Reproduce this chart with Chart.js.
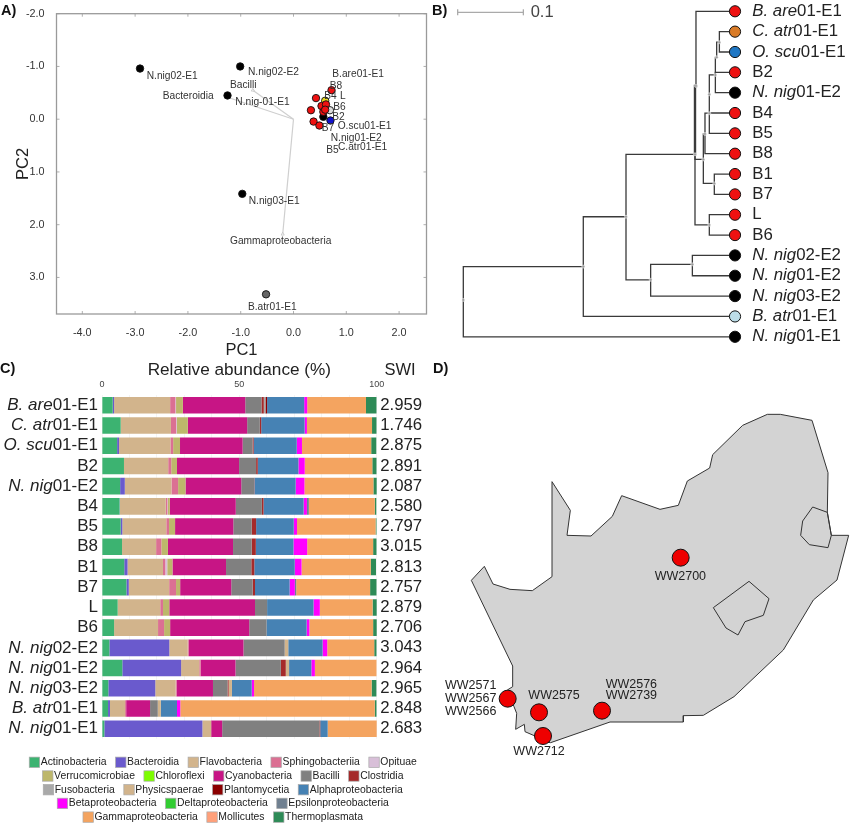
<!DOCTYPE html>
<html><head><meta charset="utf-8">
<script src="https://cdn.jsdelivr.net/npm/chart.js@4/dist/chart.umd.js"></script>
<style>
html,body{margin:0;padding:0;background:#fff;width:850px;height:824px;overflow:hidden}
canvas{position:absolute;display:block}
.tag{position:absolute;font:bold 14.5px "Liberation Sans";color:#111;line-height:16px}
</style></head><body>
<canvas id="a" width="430" height="360" style="left:0;top:0"></canvas>
<canvas id="b" width="420" height="350" style="left:430px;top:0"></canvas>
<canvas id="c" width="430" height="469" style="left:0;top:355px"></canvas>
<canvas id="d" width="420" height="400" style="left:430px;top:380px"></canvas>
<div class="tag" style="left:1px;top:2px">A)</div>
<div class="tag" style="left:432px;top:2px">B)</div>
<div class="tag" style="left:0;top:360px">C)</div>
<div class="tag" style="left:433px;top:360px">D)</div>
<script>
// ---------- Panel A: PCA ----------
const pcNames=['B.atr','Nnig03','Nnig02a','Nnig02b','Nnig01','yellow','pale','black','red1','red2','red3','red4','red5','red6','red7','red8','red9','blue'];
const pc1=[-0.52,-0.97,-2.907,-1.01,-1.25,0.60,0.69,0.565,0.72,0.426,0.33,0.53,0.615,0.565,0.38,0.49,0.60,0.70];
const pc2=[3.32,1.415,-0.96,-1.0,-0.45,-0.35,-0.17,-0.045,-0.55,-0.40,-0.17,-0.25,-0.28,-0.14,0.045,0.12,-0.18,0.025];
const pcColors=['#666666','#000','#000','#000','#000','#e8d820','#dddddd','#000','#ee1111','#ee1111','#ee1111','#ee1111','#ee1111','#ee1111','#ee1111','#ee1111','#ee1111','#1111cc'];
const arrowNames=['Bacilli','Bacteroidia','Gammaproteobacteria'];
const arrowPc1=[-0.77,-1.265,-0.205];
const arrowPc2=[-0.55,-0.42,2.18];
const pcLabelText=['N.nig02-E1','N.nig02-E2','Bacilli','Bacteroidia','N.nig-01-E1','B.are01-E1','B8','B4','L','B6','B2','O.scu01-E1','B7','N.nig01-E2','B5','C.atr01-E1','N.nig03-E1','Gammaproteobacteria','B.atr01-E1'];
const pcLabelX=[-2.78,-0.862,-1.203,-2.477,-1.102,0.735,0.686,0.583,0.881,0.754,0.735,0.837,0.534,0.705,0.621,0.843,-0.848,-1.203,-0.862];
const pcLabelY=[-0.81,-0.884,-0.644,-0.436,-0.316,-0.852,-0.631,-0.43,-0.436,-0.233,-0.044,0.138,0.165,0.36,0.587,0.536,1.559,2.311,3.566];
const pcTicksX=[-4,-3,-2,-1,0,1,2];
const pcTicksY=[-2,-1,0,1,2,3];

// ---------- Panel B: tree ----------
const nodeNames=['root','A','C','D','E','F','H','I','J','K','M','N','Q','S','T','U'];
const nodeDist=[0,.1826,.2476,.3526,.2851,.3486,.3541,.3744,.3653,.3678,.3820,.3744,.3744,.3836,.3856,.3897];
const nodeRow=[14.19,12.55,10.1,7.03,13.2,12.44,3.67,10.5,7.28,6.03,8.46,5.01,4.08,3.13,2.26,1.52];
const nodeParent=[null,'root','A','C','C','E','D','D','D','J','J','K','N','Q','S','T'];
const tipNames=['B. are01-E1','C. atr01-E1','O. scu01-E1','B2','N. nig01-E2','B4','B5','B8','B1','B7','L','B6','N. nig02-E2','N. nig01-E2','N. nig03-E2','B. atr01-E1','N. nig01-E1'];
const tipParent=['H','U','U','S','S','N','N','K','M','M','I','I','F','F','E','A','root'];
const tipDist=.4135;
const tipColors=['#ee1111','#d97b27','#1f77c4','#ee1111','#000','#ee1111','#ee1111','#ee1111','#ee1111','#ee1111','#ee1111','#ee1111','#000','#000','#000','#bcdde8','#000'];

// ---------- Panel C: stacked bars ----------
const sampleNames=['B. are01-E1','C. atr01-E1','O. scu01-E1','B2','N. nig01-E2','B4','B5','B8','B1','B7','L','B6','N. nig02-E2','N. nig01-E2','N. nig03-E2','B. atr01-E1','N. nig01-E1'];
const swi=['2.959','1.746','2.875','2.891','2.087','2.580','2.797','3.015','2.813','2.757','2.879','2.706','3.043','2.964','2.965','2.848','2.683'];
const actinobacteria=[3.9,6.8,5.5,8,6.6,6.4,6.8,7.3,8.1,8.9,5.7,4.4,2.7,7.4,2.3,2.2,.85];
const bacteroidia=[.5,0,.7,0,1.7,.1,.6,0,1.2,.85,0,0,21.8,21.4,17.1,.7,35.7];
const flavobacteria=[20.4,18.3,18.7,16.1,17,16.7,16,12.4,12.9,14.7,15.5,16,6.7,6.6,7.4,5.5,3.2];
const sphingobacteriia=[1.9,1.9,1,1.1,2.4,.6,1,1.9,.85,2.5,1,2.2,.4,.5,.4,.4,0];
const opituae=[.25,.25,0,0,0,.2,0,0,.7,0,0,0,0,0,0,0,0];
const verrucomicrobiae=[2.5,4,2.5,2.1,2.7,.7,2.2,2.4,1.9,1.5,2.3,2.2,0,0,0,0,0];
const chloroflexi=[0,0,0,0,0,0,0,0,0,0,0,0,0,0,0,0,0];
const cyanobacteria=[22.7,21.6,22.8,22.6,20.3,24,21.2,23.7,19.5,18.6,31.2,28.8,19.9,12.7,13.2,8.7,4];
const bacilli=[5.9,4.6,3.6,6.2,4.7,9.5,6.7,6.8,9.2,7.8,4.4,6.3,15,16.5,5.3,2.8,35.4];
const clostridia=[.85,.5,.4,.6,.1,.6,1.6,1.5,1.1,.85,0,0,0,1.8,.4,0,.3];
const fusobacteria=[.6,0,0,0,0,0,0,0,0,0,0,0,0,0,0,0,0];
const physicspaerae=[0,0,0,0,0,0,0,0,0,0,0,0,1.3,1.2,1.2,1.1,0];
const plantomycetia=[.6,0,0,0,0,0,0,0,0,0,0,0,0,0,0,0,0];
const alphaproteobacteria=[13.5,15.8,15.7,14.8,15,14.6,13.7,13.7,14.7,12.6,16.9,14.6,12.5,8.1,7.2,5.9,2.7];
const betaproteobacteria=[1.1,.85,1.9,2.3,3.2,1.2,1.2,5,2.5,1.9,2.3,1,1.7,1.3,.85,1.2,0];
const deltaproteobacteria=[0,0,0,0,0,0,0,0,0,0,0,0,0,0,0,0,0];
const epsilonproteobacteria=[0,0,0,0,0,.7,0,0,0,.5,0,0,0,0,0,0,0];
const gammaproteobacteria=[21.4,23.7,25.2,24.6,25.1,24,28.6,24,25.2,26.9,19.2,23.2,17.1,22.5,42.8,70.8,18];
const mollicutes=[0,0,0,0,0,0,0,0,0,0,0,0,0,0,0,0,0];
const thermoplasmata=[3.9,1.7,1.9,1.6,1.3,.6,.4,1.3,1.9,2.4,1.6,1.5,.9,0,1.8,.7,0];
const seriesNames=['Actinobacteria','Bacteroidia','Flavobacteria','Sphingobacteriia','Opituae','Verrucomicrobiae','Chloroflexi','Cyanobacteria','Bacilli','Clostridia','Fusobacteria','Physicspaerae','Plantomycetia','Alphaproteobacteria','Betaproteobacteria','Deltaproteobacteria','Epsilonproteobacteria','Gammaproteobacteria','Mollicutes','Thermoplasmata'];
const seriesValues=[actinobacteria,bacteroidia,flavobacteria,sphingobacteriia,opituae,verrucomicrobiae,chloroflexi,cyanobacteria,bacilli,clostridia,fusobacteria,physicspaerae,plantomycetia,alphaproteobacteria,betaproteobacteria,deltaproteobacteria,epsilonproteobacteria,gammaproteobacteria,mollicutes,thermoplasmata];
const seriesColors=['#3cb371','#6a5acd','#d2b48c','#db7093','#d8bfd8','#bdb76b','#7cfc00','#c71585','#808080','#a52a2a','#a9a9a9','#d2b48c','#8b0000','#4682b4','#ff00ff','#32cd32','#708090','#f4a460','#ffa07a','#2e8b57'];
const legendRowCounts=[5,5,4,3,3];

// ---------- Panel D: map (map grid units) ----------
const borderX=[124,163,189,240,307,366,366,421,411,483,547,575,690,745,772,839,848,938,1012,1051,1146,1194,1192,1204,1256,1221,1150,1060,912,820,760,760,540,362,340,315,285,283,257,260,252,232,248,248,124];
const borderY=[601,559,612,628,632,590,305,391,466,468,409,347,388,376,303,264,224,136,103,103,121,278,397,466,466,600,660,810,950,1006,1007,1026,1026,1088,1085,1068,1055,1033,1048,1000,980,930,920,858,601];
const lesothoX=[850,957,1017,1000,945,924,888,850];
const lesothoY=[683,604,656,706,725,765,744,683];
const swazilandX=[1148,1192,1204,1194,1138,1112,1118,1148];
const swazilandY=[381,397,466,503,494,466,423,381];
const siteX=[752,233,327,516,339];
const siteY=[533,956,997,992,1068];
const siteLabelText=['WW2700','WW2571','WW2567','WW2566','WW2575','WW2576','WW2739','WW2712'];
const siteLabelX=[674,45,45,45,295,527,527,250];
const siteLabelY=[590,917,956,994,948,913,948,1116];

// ---------- helpers ----------
const FONT='"Liberation Sans"';
Chart.defaults.font.family=FONT;
Chart.defaults.animation=false;
Chart.defaults.devicePixelRatio=1;
const zip=(xs,ys)=>xs.map((x,i)=>({x,y:ys[i]}));
const base={responsive:false,maintainAspectRatio:false,events:[],plugins:{legend:{display:false},tooltip:{enabled:false}}};
function mixedText(ctx,name,x,y,size,align){
  const m=name.match(/^([A-Z]\. [a-z]+)(.*)$/);
  const it=m?m[1]:'',re=m?m[2]:name;
  ctx.textBaseline='middle';ctx.textAlign='left';
  ctx.font='italic '+size+'px '+FONT;const w1=ctx.measureText(it).width;
  ctx.font=size+'px '+FONT;const w2=ctx.measureText(re).width;
  let left=align==='right'?x-w1-w2:x;
  ctx.font='italic '+size+'px '+FONT;ctx.fillText(it,left,y);
  ctx.font=size+'px '+FONT;ctx.fillText(re,left+w1,y);
}

// ---------- Chart A ----------
new Chart(document.getElementById('a'),{
  type:'scatter',
  data:{datasets:[
    ...arrowNames.map((n,i)=>({type:'line',label:n,order:2,data:[{x:0,y:0},{x:arrowPc1[i],y:arrowPc2[i]}],borderColor:'#cfcfcf',borderWidth:1.2,tension:0,
      pointRadius:c=>c.dataIndex===1?1.8:0,pointStyle:'triangle',pointBackgroundColor:'#fff',pointBorderColor:'#bbb',pointBorderWidth:.7})),
    {label:'samples',order:1,data:zip(pc1,pc2),backgroundColor:pcColors,borderColor:'#111',borderWidth:.9,pointRadius:3.7}
  ]},
  options:{...base,
    layout:{autoPadding:false,padding:{top:13.7,right:3.5,left:0,bottom:0}},
    scales:{
      x:{type:'linear',min:-4.489,max:2.519,grid:{display:false},border:{display:false},
        afterBuildTicks:s=>{s.ticks=pcTicksX.map(v=>({value:v}));},
        afterFit:s=>{s.height=46;},
        ticks:{padding:5,font:{size:10.8},color:'#333',maxRotation:0,callback:v=>v.toFixed(1)},
        title:{display:true,text:'PC1',font:{size:16.5},color:'#222',padding:{top:6,bottom:0}}},
      y:{type:'linear',reverse:true,min:-2,max:3.693,grid:{display:false},border:{display:false},
        afterBuildTicks:s=>{s.ticks=pcTicksY.map(v=>({value:v}));},
        afterFit:s=>{s.width=56.5;},
        ticks:{padding:4,font:{size:10.8},color:'#333',callback:v=>v.toFixed(1)},
        title:{display:true,text:'PC2',font:{size:16.5},color:'#222',padding:{top:14,bottom:0}}}
    }},
  plugins:[{id:'frame',afterDatasetsDraw(ch){
    const {ctx,chartArea:a,scales:{x,y}}=ch;ctx.save();
    ctx.strokeStyle='#9a9a9a';ctx.lineWidth=1.3;ctx.strokeRect(a.left,a.top,a.width,a.height);
    ctx.lineWidth=.8;ctx.beginPath();
    pcTicksX.forEach(v=>{const p=x.getPixelForValue(v);ctx.moveTo(p,a.top);ctx.lineTo(p,a.top+3);ctx.moveTo(p,a.bottom);ctx.lineTo(p,a.bottom-3);});
    pcTicksY.forEach(v=>{const p=y.getPixelForValue(v);ctx.moveTo(a.left,p);ctx.lineTo(a.left+3,p);ctx.moveTo(a.right,p);ctx.lineTo(a.right-3,p);});
    ctx.stroke();
    ctx.fillStyle='#333';ctx.font='10.2px '+FONT;ctx.textAlign='left';ctx.textBaseline='middle';
    pcLabelText.forEach((t,i)=>ctx.fillText(t,x.getPixelForValue(pcLabelX[i]),y.getPixelForValue(pcLabelY[i])));
    ctx.restore();
  }}]
});

// ---------- Chart B ----------
const nodePos=n=>{const i=nodeNames.indexOf(n);return {x:nodeDist[i],y:nodeRow[i]};};
const elbow=(p,c)=>[p,{x:p.x,y:c.y},c];
const treeEdges=[];
nodeNames.forEach((n,i)=>{if(nodeParent[i])treeEdges.push(elbow(nodePos(nodeParent[i]),nodePos(n)));});
tipNames.forEach((n,i)=>treeEdges.push(elbow(nodePos(tipParent[i]),{x:tipDist,y:i})));
const scaleBarStart=-.0086,scaleBarLength=.1,scaleBarRow=.05;
new Chart(document.getElementById('b'),{
  type:'scatter',
  data:{datasets:[
    ...treeEdges.map((e,i)=>({type:'line',order:3,data:e,borderColor:'#3a3a3a',borderWidth:(e[0].x===nodePos('D').x&&e[2].x===nodePos('H').x)?2.4:1.3,pointRadius:0,tension:0,borderCapStyle:'square'})),
    {order:2,data:zip(nodeDist,nodeRow),backgroundColor:'#9a9a9a',borderColor:'#fff',borderWidth:.5,pointRadius:1.5},
    {order:1,data:tipNames.map((n,i)=>({x:tipDist,y:i})),backgroundColor:tipColors,borderColor:'#111',borderWidth:1,pointRadius:5.6},
    {type:'line',order:3,data:[{x:scaleBarStart,y:scaleBarRow},{x:scaleBarStart+scaleBarLength,y:scaleBarRow}],borderColor:'#aaa',borderWidth:1.3,pointStyle:'line',pointRotation:90,pointRadius:3,pointBorderColor:'#aaa',pointBorderWidth:1.3}
  ]},
  options:{...base,layout:{autoPadding:false,padding:0},clip:false,
    scales:{x:{type:'linear',display:false,min:-.0507,max:.5885},y:{type:'linear',display:false,reverse:true,min:-.5556,max:16.65}}},
  plugins:[{id:'tiplabels',afterDatasetsDraw(ch){
    const {ctx,scales:{x,y}}=ch;ctx.save();ctx.fillStyle='#222';
    tipNames.forEach((n,i)=>mixedText(ctx,n,x.getPixelForValue(tipDist)+17.3,y.getPixelForValue(i),16.8,'left'));
    ctx.fillStyle='#444';ctx.font='16.5px '+FONT;ctx.textAlign='left';ctx.textBaseline='middle';
    ctx.fillText('0.1',x.getPixelForValue(.1025),y.getPixelForValue(scaleBarRow));
    ctx.restore();
  }}]
});

// ---------- Chart C ----------
new Chart(document.getElementById('c'),{
  type:'bar',
  data:{labels:sampleNames,datasets:seriesNames.map((n,i)=>({label:n,data:seriesValues[i],backgroundColor:seriesColors[i],borderWidth:0,barPercentage:.82,categoryPercentage:1}))},
  options:{...base,indexAxis:'y',
    layout:{autoPadding:false,padding:{top:0,left:0,right:53.3,bottom:85.2}},
    scales:{
      x:{type:'linear',position:'top',stacked:true,min:0,max:100,border:{display:false},
        grid:{drawTicks:false,color:'#efefef',lineWidth:.7},
        afterFit:s=>{s.height=40.2;},
        ticks:{stepSize:10,padding:5,maxRotation:0,font:{size:9},color:'#444',callback:v=>v%50===0?String(v):''},
        title:{display:true,text:'Relative abundance (%)',font:{size:17.2},color:'#222',padding:{top:5,bottom:0}}},
      y:{type:'category',stacked:true,grid:{display:false},border:{display:false},ticks:{display:false},afterFit:s=>{s.width=102;}}
    }},
  plugins:[{id:'rows',afterDatasetsDraw(ch){
    const {ctx,scales:{y},chartArea:a}=ch;ctx.save();ctx.fillStyle='#222';
    sampleNames.forEach((n,i)=>{
      const p=y.getPixelForTick(i);
      mixedText(ctx,n,98,p,17,'right');
      ctx.font='16.8px '+FONT;ctx.textAlign='left';ctx.fillText(swi[i],a.right+3.5,p);
    });
    ctx.textAlign='center';ctx.font='16.5px '+FONT;ctx.fillText('SWI',400,15);
    // legend
    ctx.font='10.4px '+FONT;ctx.textBaseline='middle';ctx.textAlign='left';
    let k=0;
    legendRowCounts.forEach((cnt,r)=>{
      const items=seriesNames.slice(k,k+cnt).map((n,j)=>({n,c:seriesColors[k+j]}));k+=cnt;
      const widths=items.map(it=>11.5+ctx.measureText(it.n).width);
      const total=widths.reduce((s,w)=>s+w,0)+9*(cnt-1);
      let xx=223-total/2;const yy=407.3+13.7*r;
      items.forEach((it,j)=>{
        ctx.fillStyle=it.c;ctx.strokeStyle='#aaa';ctx.lineWidth=.7;
        ctx.fillRect(xx,yy-5.2,10.4,10.4);ctx.strokeRect(xx,yy-5.2,10.4,10.4);
        ctx.fillStyle='#222';ctx.fillText(it.n,xx+11.5,yy);
        xx+=widths[j]+9;
      });
    });
    ctx.restore();
  }}]
});

// ---------- Chart D ----------
const outlineStyle={borderColor:'#333',borderWidth:1,pointRadius:0,tension:0};
new Chart(document.getElementById('d'),{
  type:'scatter',
  data:{datasets:[
    {type:'line',order:3,data:zip(borderX,borderY),fill:'shape',backgroundColor:'#d3d3d3',...outlineStyle},
    {type:'line',order:2,data:zip(lesothoX,lesothoY),fill:false,...outlineStyle},
    {type:'line',order:2,data:zip(swazilandX,swazilandY),fill:false,...outlineStyle},
    {order:1,data:zip(siteX,siteY),backgroundColor:'#ee0000',borderColor:'#111',borderWidth:1,pointRadius:8.5}
  ]},
  options:{...base,layout:{autoPadding:false,padding:0},
    scales:{x:{type:'linear',display:false,min:0,max:1260},y:{type:'linear',display:false,reverse:true,min:0,max:1200}}},
  plugins:[{id:'sites',afterDatasetsDraw(ch){
    const {ctx,scales:{x,y}}=ch;ctx.save();ctx.fillStyle='#222';ctx.font='12.5px '+FONT;ctx.textAlign='left';ctx.textBaseline='middle';
    siteLabelText.forEach((t,i)=>ctx.fillText(t,x.getPixelForValue(siteLabelX[i]),y.getPixelForValue(siteLabelY[i])));
    ctx.restore();
  }}]
});
</script>
</body></html>
